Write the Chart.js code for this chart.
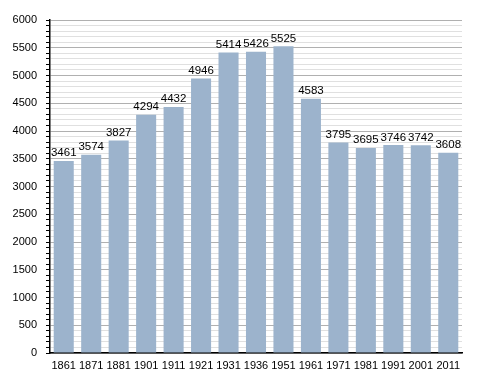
<!DOCTYPE html>
<html>
<head>
<meta charset="utf-8">
<script src="https://cdn.jsdelivr.net/npm/chart.js@4/dist/chart.umd.min.js"></script>
<style>
  html, body { margin: 0; padding: 0; background: #fff; }
  #wrap { width: 488px; height: 373px; }
</style>
</head>
<body>
<div id="wrap"><canvas id="chart" width="488" height="373"></canvas></div>
<script>
const years = ['1861', '1871', '1881', '1901', '1911', '1921', '1931', '1936', '1951', '1961', '1971', '1981', '1991', '2001', '2011'];
const population = [3461, 3574, 3827, 4294, 4432, 4946, 5414, 5426, 5525, 4583, 3795, 3695, 3746, 3742, 3608];
const yMax = 6000;
const yStep = 100;
const yLabelStep = 500;

const FONT = '"Liberation Sans", Arial, sans-serif';

// value labels on top of each bar
const valueLabels = {
  id: 'valueLabels',
  afterDatasetsDraw(chart) {
    const ctx = chart.ctx;
    const meta = chart.getDatasetMeta(0);
    ctx.save();
    ctx.font = '11.5px ' + FONT;
    ctx.fillStyle = '#000';
    ctx.textAlign = 'center';
    ctx.textBaseline = 'bottom';
    meta.data.forEach((bar, i) => {
      ctx.fillText(population[i], bar.x, bar.y - 2);
    });
    ctx.restore();
  }
};

new Chart(document.getElementById('chart'), {
  type: 'bar',
  data: {
    labels: years,
    datasets: [{
      data: population,
      backgroundColor: '#9cb3cc',
      borderWidth: 0,
      categoryPercentage: 1,
      barPercentage: 0.73
    }]
  },
  options: {
    responsive: false,
    animation: false,
    layout: { padding: { top: 20, right: 26, left: 0, bottom: 0 } },
    plugins: {
      legend: { display: false },
      tooltip: { enabled: false }
    },
    scales: {
      x: {
        grid: { display: false },
        border: { color: '#000', width: 1.5 },
        afterFit: s => { s.height = 20; },
        ticks: {
          color: '#000',
          font: { family: FONT, size: 11 },
          padding: -2,
          maxRotation: 0,
          autoSkip: false
        }
      },
      y: {
        min: 0,
        max: yMax,
        border: { color: '#000', width: 1.5 },
        afterFit: s => { s.width = 50; },
        grid: {
          color: c => c.tick.value % yLabelStep === 0 ? '#b0b0b0' : '#e0e0e0',
          lineWidth: 1,
          tickLength: 4,
          tickColor: '#000',
          drawTicks: true
        },
        ticks: {
          stepSize: yStep,
          autoSkip: false,
          color: '#000',
          font: { family: FONT, size: 11 },
          padding: 9,
          callback: v => v % yLabelStep === 0 ? v : ''
        }
      }
    }
  },
  plugins: [valueLabels]
});
</script>
</body>
</html>
